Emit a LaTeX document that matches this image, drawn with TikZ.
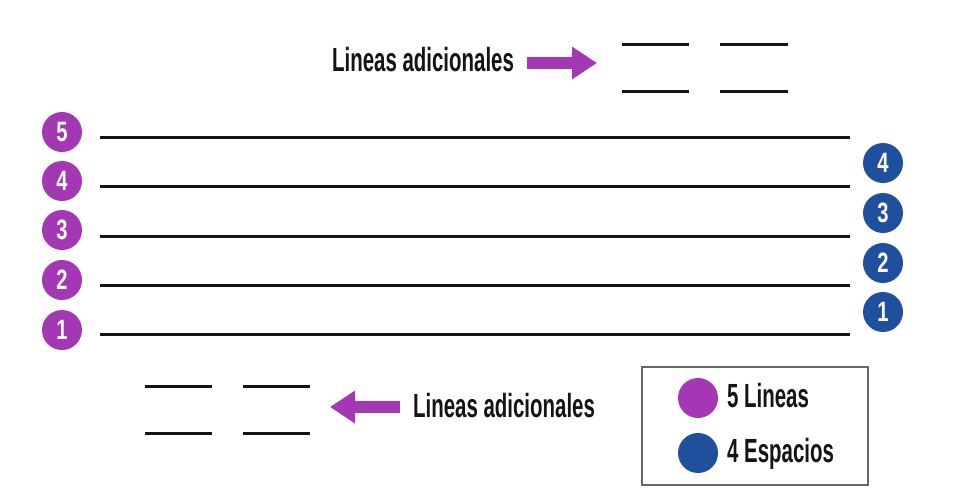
\documentclass[tikz,border=0pt]{standalone}
\usepackage{fontspec}
\setmainfont{Liberation Sans}[FakeStretch=0.61]
\newfontfamily\digitfont{Liberation Sans}[FakeStretch=0.72]
\usetikzlibrary{arrows.meta}
\definecolor{purp}{RGB}{163,55,180}
\definecolor{blu}{RGB}{31,80,158}
\definecolor{linecol}{RGB}{20,20,20}
\tikzset{
  staffline/.style={line width=3pt, draw=linecol},
  ledger/.style={line width=3pt, draw=linecol},
  numcirc/.style={circle, minimum size=40pt, inner sep=0pt, text=white,
    font=\digitfont\bfseries\fontsize{28}{28}\selectfont},
  pcirc/.style={numcirc, fill=purp},
  bcirc/.style={numcirc, fill=blu},
  lbl/.style={font=\bfseries\fontsize{33.5}{33.5}\selectfont, inner sep=0pt, anchor=base west, text=linecol},
  bigarrow/.style={line width=12pt, draw=purp, -{Triangle[length=25pt,width=31pt]}},
  legendbox/.style={draw=gray!80!black, line width=1.6pt},
}
\begin{document}
\begin{tikzpicture}[x=1pt,y=-1pt]
\useasboundingbox (0,0) rectangle (956,498);
% staff lines
\foreach \i/\y in {5/137,4/186,3/236,2/285,1/334}{
  \coordinate (s\i a) at (100,\y);
  \coordinate (s\i b) at (850,\y);
  \draw[staffline] (s\i a) -- (s\i b);
}
% purple line numbers
\foreach \i/\y in {5/132,4/181,3/230,2/280,1/330}{
  \node[pcirc] (p\i) at (62,\y) {\i};
}
% blue space numbers
\foreach \i/\y in {4/163,3/213,2/263,1/312}{
  \node[bcirc] (b\i) at (883,\y) {\i};
}
% top ledger lines
\coordinate (t1a) at (622,44); \coordinate (t1b) at (689,44);
\coordinate (t2a) at (720,44); \coordinate (t2b) at (788,44);
\coordinate (t3a) at (622,91); \coordinate (t3b) at (689,91);
\coordinate (t4a) at (720,91); \coordinate (t4b) at (788,91);
\draw[ledger] (t1a) -- (t1b);
\draw[ledger] (t2a) -- (t2b);
\draw[ledger] (t3a) -- (t3b);
\draw[ledger] (t4a) -- (t4b);
% top label and arrow
\node[lbl] (toplbl) at (332,71) {Lineas adicionales};
\coordinate (ta1) at (527,63);
\coordinate (ta2) at (597,63);
\draw[bigarrow] (ta1) -- (ta2);
% bottom ledger lines
\coordinate (u1a) at (145,386); \coordinate (u1b) at (212,386);
\coordinate (u2a) at (243,386); \coordinate (u2b) at (310,386);
\coordinate (u3a) at (145,433); \coordinate (u3b) at (212,433);
\coordinate (u4a) at (243,433); \coordinate (u4b) at (310,433);
\draw[ledger] (u1a) -- (u1b);
\draw[ledger] (u2a) -- (u2b);
\draw[ledger] (u3a) -- (u3b);
\draw[ledger] (u4a) -- (u4b);
% bottom label and arrow
\node[lbl] (botlbl) at (413,417) {Lineas adicionales};
\coordinate (ba1) at (400,407);
\coordinate (ba2) at (330,407);
\draw[bigarrow] (ba1) -- (ba2);
% legend
\node[legendbox, minimum width=226pt, minimum height=118pt, inner sep=0pt] (legend) at (755,426) {};
\node[circle, fill=purp, minimum size=40pt, inner sep=0pt] (lp) at (698,398) {};
\node[circle, fill=blu, minimum size=40pt, inner sep=0pt] (lb) at (698,453) {};
\node[lbl] (lpt) at (727,407) {5 Lineas};
\node[lbl] (lbt) at (727,462) {4 Espacios};
\end{tikzpicture}
\end{document}
